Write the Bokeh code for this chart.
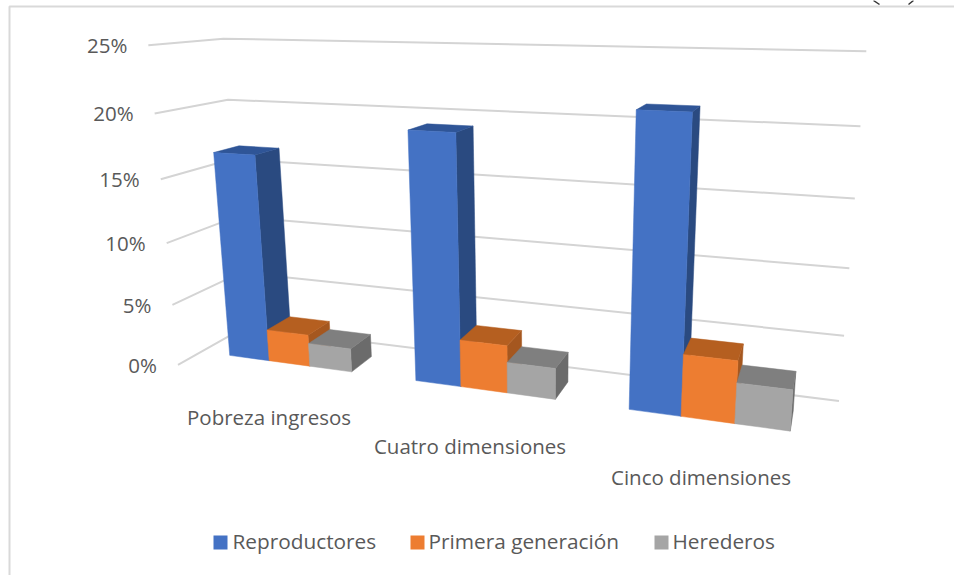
import numpy as np
from bokeh.plotting import figure
from bokeh.embed import file_html
from bokeh.resources import INLINE
from bokeh.core.properties import value

categories = ["Pobreza ingresos", "Cuatro dimensiones", "Cinco dimensiones"]
series = ["Reproductores", "Primera generación", "Herederos"]
reproductores = [16.7, 19.2, 21.3]
primera_generacion = [2.6, 3.7, 4.6]
herederos = [1.9, 2.4, 3.0]
ticks = [0, 5, 10, 15, 20, 25]
tick_labels = ["0%", "5%", "10%", "15%", "20%", "25%"]
front_colors = ["#4472C4", "#ED7D31", "#A5A5A5"]
top_colors = ["#2F5597", "#B55F20", "#7F7F7F"]
side_colors = ["#2A4A80", "#A5571F", "#6B6B6B"]

# perspective camera calibrated on the chart's wall corners
wall_front = [(176,365),(171,304),(166,243),(160,178),(155,113),(150,45)]
wall_corner = [(246,327),(241,272),(237,216),(232,158),(227,99),(220,39)]
wall_right = [(838,401),(843,335),(849,267),(855,198),(860,126),(866,51)]
A=[];b=[]
for i,v in enumerate(ticks):
    for (u,d),(x,y) in (((0,1),wall_front[i]),((0,0),wall_corner[i]),((1,0),wall_right[i])):
        A.append([u,d,v,1,0,0,0,0,-x*u,-x*d,-x*v]);b.append(x)
        A.append([0,0,0,0,u,d,v,1,-y*u,-y*d,-y*v]);b.append(y)
P=np.append(np.linalg.lstsq(np.array(A,float),np.array(b,float),rcond=None)[0],1).reshape(3,4)

def proj(u,d,v):
    w=P@np.array([u,d,v,1.0]);return float(w[0]/w[2]),float(w[1]/w[2])

bar_w=0.074; d_front=0.67; d_back=0.305
group_centers=[0.165,0.4965,0.828]

p=figure(width=954,height=575,x_range=(0,954),y_range=(575,0),output_backend="svg",toolbar_location=None,
         min_border=0,margin=0,outline_line_color=None)
p.xaxis.visible=False;p.yaxis.visible=False;p.grid.visible=False

# chart frame
p.line([954,9,9],[6,6,575],line_color="#D9D9D9",line_width=2)
# fragment of the page text above the frame
p.line([873,879],[0,4],line_color="#333333",line_width=1.5)
p.line([913,908],[0,4],line_color="#333333",line_width=1.5)
# gridlines
gx=[];gy=[]
for v in ticks:
    pts=[proj(0,1,v),proj(0,0,v),proj(1,0,v)]
    gx.append([q[0] for q in pts]);gy.append([q[1] for q in pts])
p.multi_line(gx,gy,line_color="#D4D4D4",line_width=2)
# tick labels
for v,t in zip(ticks,tick_labels):
    x,y=proj(0,1,v)
    p.text([x-21],[y],text=[t],text_align="right",text_baseline="middle",text_color="#595959",
           text_font=value("Open Sans"),text_font_size="20.5px")
# bars
data=[reproductores,primera_generacion,herederos]
xs=[];ys=[];cs=[]
def face(pts,c):
    xs.append([proj(*q)[0] for q in pts]);ys.append([proj(*q)[1] for q in pts]);cs.append(c)
for i,c in enumerate(group_centers):
    for j in range(3):
        u0=c+(j-1.5)*bar_w;u1=u0+bar_w;h=data[j][i]
        face([(u1,d_front,0),(u1,d_back,0),(u1,d_back,h),(u1,d_front,h)],side_colors[j])
        face([(u0,d_front,h),(u1,d_front,h),(u1,d_back,h),(u0,d_back,h)],top_colors[j])
        face([(u0,d_front,0),(u1,d_front,0),(u1,d_front,h),(u0,d_front,h)],front_colors[j])
p.patches(xs,ys,fill_color=cs,line_color=cs,line_width=0.5)
# category labels
for t,x,y in zip(categories,[268.5,469.5,700.5],[416.5,445.5,476.5]):
    p.text([x],[y],text=[t],text_align="center",text_baseline="middle",text_color="#595959",
           text_font=value("Open Sans"),text_font_size="20.5px")
# legend
for s,c,sx,tx in zip(series,front_colors,[213,410,654],[232,428,672]):
    p.quad(left=[sx],right=[sx+14],top=[535],bottom=[549],fill_color=c,line_color=None)
    p.text([tx],[540.5],text=[s],text_baseline="middle",text_color="#595959",
           text_font=value("Open Sans"),text_font_size="20.8px")
open("out.html","w").write(file_html(p,INLINE))
